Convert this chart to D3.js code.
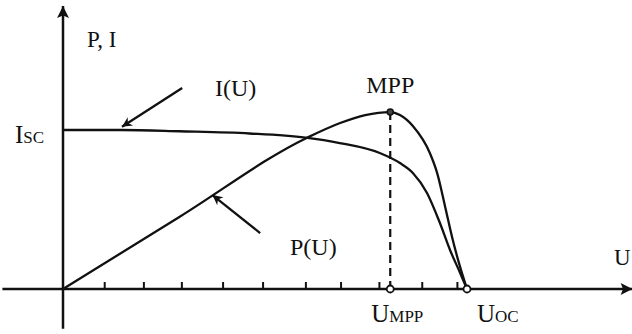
<!DOCTYPE html>
<html>
<head>
<meta charset="utf-8">
<script src="https://cdn.jsdelivr.net/npm/d3@7"></script>
<style>
  body { margin: 0; background: #fff; }
  text { font-family: "Liberation Serif", serif; fill: #111; }
</style>
</head>
<body>
<div id="chart"></div>
<script>
// U normalised to U_OC = 1, I normalised to I_SC = 1 (P on the same scale)
var iCurve = [
    [0, 1.0], [0.144, 1.0], [0.288, 0.992], [0.462, 0.978], [0.600, 0.952],
    [0.685, 0.918], [0.784, 0.855], [0.834, 0.792], [0.866, 0.730],
    [0.901, 0.604], [0.933, 0.415], [0.958, 0.245], [0.983, 0.101], [1, 0]
];
var pCurve = [
    [0, 0], [0.288, 0.453], [0.603, 0.950], [0.686, 1.044], [0.748, 1.094],
    [0.81, 1.113], [0.834, 1.094], [0.866, 1.025], [0.908, 0.855],
    [0.926, 0.730], [0.946, 0.516], [0.963, 0.327], [0.980, 0.164], [1, 0]
];
var uTicks = [0.102, 0.199, 0.293, 0.395, 0.494, 0.600, 0.687, 0.782, 0.888, 0.975];
var uMpp = 0.81, pMpp = 1.113, uOc = 1;

var width = 632, height = 334;

var x = d3.scaleLinear().domain([0, 1]).range([63, 467]);
var y = d3.scaleLinear().domain([0, 1]).range([289, 130]);

var svg = d3.select("#chart").append("svg")
    .attr("width", width)
    .attr("height", height);

var defs = svg.append("defs");
defs.append("marker")
    .attr("id", "head")
    .attr("viewBox", "0 0 10 10")
    .attr("refX", 10).attr("refY", 5)
    .attr("markerUnits", "userSpaceOnUse")
    .attr("markerWidth", 15).attr("markerHeight", 12)
    .attr("orient", "auto")
  .append("path")
    .attr("d", "M0,0 L10,5 L0,10 L2,5 z")
    .attr("fill", "#111");
defs.append("marker")
    .attr("id", "small")
    .attr("viewBox", "0 0 10 10")
    .attr("refX", 10).attr("refY", 5)
    .attr("markerUnits", "userSpaceOnUse")
    .attr("markerWidth", 14).attr("markerHeight", 10)
    .attr("orient", "auto")
  .append("path")
    .attr("d", "M0,0 L10,5 L0,10 L3,5 z")
    .attr("fill", "#111");

// axes
svg.append("line")
    .attr("x1", x(-0.15)).attr("y1", y(0))
    .attr("x2", x(1.41)).attr("y2", y(0))
    .attr("stroke", "#111").attr("stroke-width", 2.5)
    .attr("marker-end", "url(#head)");
svg.append("line")
    .attr("x1", x(0)).attr("y1", y(-0.25))
    .attr("x2", x(0)).attr("y2", y(1.78))
    .attr("stroke", "#111").attr("stroke-width", 2.5)
    .attr("marker-end", "url(#head)");

var ticks = svg.append("g")
    .attr("transform", "translate(0," + y(0) + ")")
    .call(d3.axisTop(x).tickValues(uTicks).tickSize(7).tickFormat(""));
ticks.select(".domain").remove();
ticks.selectAll("line").attr("stroke", "#111").attr("stroke-width", 2);

// curves
var line = d3.line()
    .x(function(d) { return x(d[0]); })
    .y(function(d) { return y(d[1]); })
    .curve(d3.curveMonotoneX);

svg.append("path").datum(iCurve)
    .attr("d", line)
    .attr("fill", "none").attr("stroke", "#111").attr("stroke-width", 2.3);
svg.append("path").datum(pCurve)
    .attr("d", line)
    .attr("fill", "none").attr("stroke", "#111").attr("stroke-width", 2.3);

// MPP dashed drop
svg.append("line")
    .attr("x1", x(uMpp)).attr("y1", y(pMpp))
    .attr("x2", x(uMpp)).attr("y2", y(0))
    .attr("stroke", "#111").attr("stroke-width", 2.2)
    .attr("stroke-dasharray", "8,5");

svg.append("circle")
    .attr("cx", x(uMpp)).attr("cy", y(pMpp)).attr("r", 3)
    .attr("fill", "#444").attr("stroke", "#111").attr("stroke-width", 1.5);
svg.selectAll(".pt").data([uMpp, uOc]).enter()
  .append("circle")
    .attr("class", "pt")
    .attr("cx", function(d) { return x(d); })
    .attr("cy", y(0)).attr("r", 3.5)
    .attr("fill", "#fff").attr("stroke", "#111").attr("stroke-width", 1.8);

// pointer arrows
svg.append("line")
    .attr("x1", x(0.295)).attr("y1", y(1.264))
    .attr("x2", x(0.146)).attr("y2", y(1.02))
    .attr("stroke", "#111").attr("stroke-width", 2.3)
    .attr("marker-end", "url(#small)");
svg.append("line")
    .attr("x1", x(0.488)).attr("y1", y(0.352))
    .attr("x2", x(0.370)).attr("y2", y(0.591))
    .attr("stroke", "#111").attr("stroke-width", 2.3)
    .attr("marker-end", "url(#small)");

// labels
svg.append("text").attr("x", 87).attr("y", 47)
    .style("font-size", "23px").text("P, I");
svg.append("text").attr("x", 614).attr("y", 265)
    .style("font-size", "23px").text("U");
svg.append("text").attr("x", 215).attr("y", 96)
    .style("font-size", "24px").text("I(U)");
svg.append("text").attr("x", x(uMpp)).attr("y", y(pMpp) - 19)
    .attr("text-anchor", "middle")
    .style("font-size", "24px").text("MPP");
svg.append("text").attr("x", 290).attr("y", 255)
    .style("font-size", "24px").text("P(U)");

function sub(xp, yp, main, s) {
    var t = svg.append("text").attr("x", xp).attr("y", yp).style("font-size", "25px");
    t.append("tspan").text(main);
    t.append("tspan").style("font-size", "17px").text(s);
}
sub(15, y(1) + 13, "I", "SC");
sub(x(uMpp) - 19, 322, "U", "MPP");
sub(x(uOc) + 10, 322, "U", "OC");
</script>
</body>
</html>
